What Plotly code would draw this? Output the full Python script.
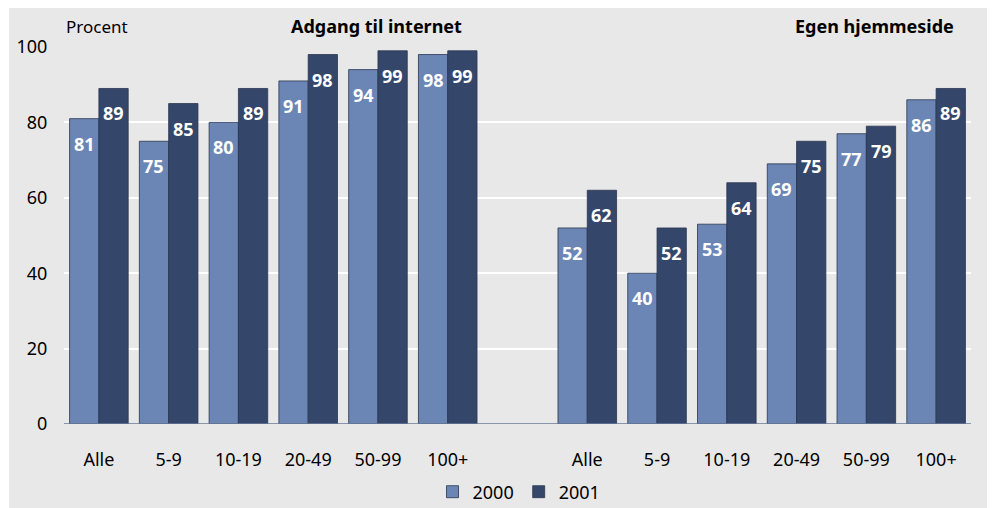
import plotly.graph_objects as go

groups = ["Alle", "5-9", "10-19", "20-49", "50-99", "100+"]
internet_2000 = [81, 75, 80, 91, 94, 98]
internet_2001 = [89, 85, 89, 98, 99, 99]
hjemmeside_2000 = [52, 40, 53, 69, 77, 86]
hjemmeside_2001 = [62, 52, 64, 75, 79, 89]
years = ["2000", "2001"]
y_ticks = [0, 20, 40, 60, 80, 100]

FONT = "Noto Sans"
c2000 = "#6b86b5"
c2001 = "#34476b"

n = len(groups)
x_left = list(range(n))
x_right = [i + n + 1 for i in range(n)]
x_all = x_left + x_right

# page offset (body margin) of 8px
OFF = 8
W, H = 995, 508
L, R, T, B = 64 - OFF, 971 - OFF, 47 - OFF, 424 - OFF
pw, ph = R - L, B - T
BARGAP = 0.16
slot_px = pw / (2 * n + 1)
bar_px = slot_px * (1 - BARGAP) / 2

def px(x):
    return (x - OFF - L) / pw

def py(y):
    return (B - (y - OFF)) / ph

fig = go.Figure()
series = [(years[0], internet_2000 + hjemmeside_2000, c2000, -1),
          (years[1], internet_2001 + hjemmeside_2001, c2001, 1)]
for name, vals, col, side in series:
    fig.add_trace(go.Bar(
        x=x_all, y=vals, name=name,
        marker=dict(color=col, line=dict(color="#2a3550", width=0.8)),
        hoverinfo="skip",
    ))
    for xv, v in zip(x_all, vals):
        fig.add_annotation(
            x=xv, y=v, xref="x", yref="y", text=f"<b>{v}</b>", showarrow=False,
            xanchor="center", yanchor="top", xshift=side * bar_px / 2, yshift=-11,
            font=dict(family=FONT, size=18, color="white"),
        )

fig.add_shape(type="rect", xref="paper", yref="paper",
              x0=px(9), x1=px(990), y0=py(520), y1=py(7),
              fillcolor="#e8e8e8", line=dict(width=0), layer="below")

fig.add_annotation(text="Procent", xref="paper", yref="paper", x=px(64), y=py(27),
                   xanchor="left", yanchor="middle", showarrow=False,
                   font=dict(family=FONT, size=17, color="black"))
fig.add_annotation(text="<b>Adgang til internet</b>", xref="paper", yref="paper",
                   x=px(376), y=py(26), xanchor="center", yanchor="middle", showarrow=False,
                   font=dict(family=FONT, size=18, color="black"))
fig.add_annotation(text="<b>Egen hjemmeside</b>", xref="paper", yref="paper",
                   x=px(956), y=py(26), xanchor="right", yanchor="middle", showarrow=False,
                   font=dict(family=FONT, size=18, color="black"))

fig.update_layout(
    width=W, height=H,
    margin=dict(l=L, r=W - R, t=T, b=H - B, pad=0, autoexpand=False),
    paper_bgcolor="white", plot_bgcolor="#dcdcdc",
    barmode="group", bargap=BARGAP, bargroupgap=0,
    font=dict(family=FONT, size=18, color="black"),
    showlegend=True,
    legend=dict(orientation="h", x=px(519), xanchor="center", y=py(492), yanchor="middle",
                bgcolor="rgba(0,0,0,0)", font=dict(family=FONT, size=18),
                itemwidth=30, traceorder="normal", tracegroupgap=0),
    xaxis=dict(range=[-0.5, 2 * n + 0.5], tickmode="array", tickvals=x_all,
               ticktext=groups + groups, showgrid=False, ticks="outside", ticklen=19,
               tickcolor="rgba(0,0,0,0)", automargin=False,
               showline=False, zeroline=False, tickfont=dict(family=FONT, size=18)),
    yaxis=dict(range=[0, 100], tickvals=y_ticks, showgrid=True, gridcolor="white",
               gridwidth=2, zeroline=False, showline=False, ticks="outside", ticklen=12,
               tickcolor="rgba(0,0,0,0)", automargin=False,
               tickfont=dict(family=FONT, size=18)),
)
fig.add_shape(type="line", xref="paper", yref="y", x0=0, x1=1, y0=0, y1=0,
              line=dict(color="#6a7a99", width=1.5))

fig.write_html("out.html")
